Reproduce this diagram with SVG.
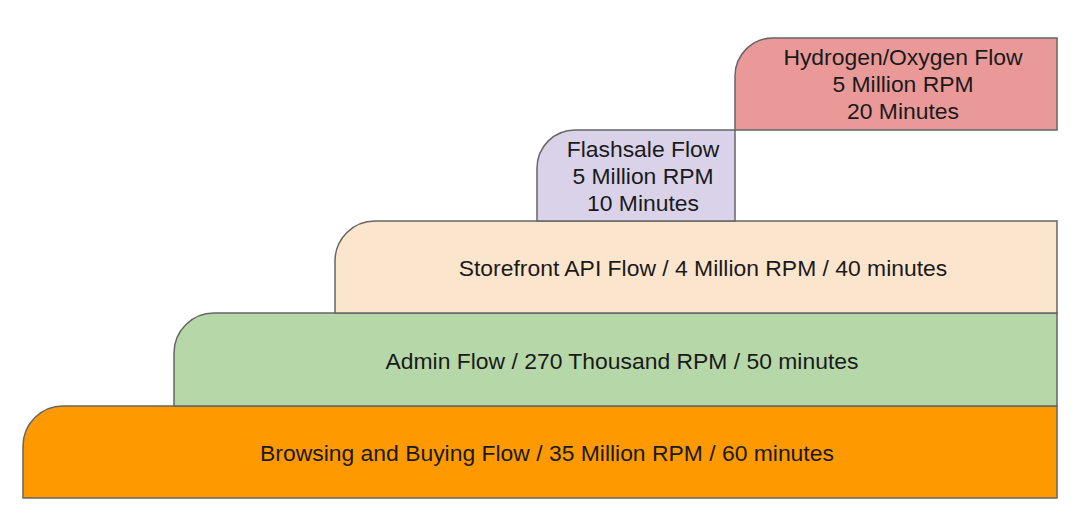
<svg xmlns="http://www.w3.org/2000/svg" width="1080" height="530" viewBox="0 0 1080 530">
<style>
.box{stroke:#666666;stroke-width:1.5}
.t{font-family:"Liberation Sans",Arial,sans-serif;font-size:22.9px;fill:#1a1a1a;text-anchor:middle;dominant-baseline:central}
</style>
<rect width="1080" height="530" fill="#ffffff"/>
<g id="browsing">
<path class="box" fill="#ff9900" d="M23,498 V446 A40,40 0 0 1 63,406 H1057 V498 Z"/>
<text class="t" x="547" y="453">Browsing and Buying Flow / 35 Million RPM / 60 minutes</text>
</g>
<g id="admin">
<path class="box" fill="#b6d7a8" d="M174,406 V353 A40,40 0 0 1 214,313 H1057 V406 Z"/>
<text class="t" x="622" y="361">Admin Flow / 270 Thousand RPM / 50 minutes</text>
</g>
<g id="storefront">
<path class="box" fill="#fce5cd" d="M335,313 V261 A40,40 0 0 1 375,221 H1057 V313 Z"/>
<text class="t" x="703" y="268">Storefront API Flow / 4 Million RPM / 40 minutes</text>
</g>
<g id="flashsale">
<path class="box" fill="#d9d2e9" d="M537,221 V168 A38,38 0 0 1 575,130 H735 V221 Z"/>
<text class="t" x="643" y="149">Flashsale Flow</text>
<text class="t" x="643" y="176">5 Million RPM</text>
<text class="t" x="643" y="203">10 Minutes</text>
</g>
<g id="hydrogen">
<path class="box" fill="#ea9999" d="M735,130 V76 A38,38 0 0 1 773,38 H1057 V130 Z"/>
<text class="t" x="903" y="57">Hydrogen/Oxygen Flow</text>
<text class="t" x="903" y="84">5 Million RPM</text>
<text class="t" x="903" y="111">20 Minutes</text>
</g>
<g id="connectors"></g>
</svg>
